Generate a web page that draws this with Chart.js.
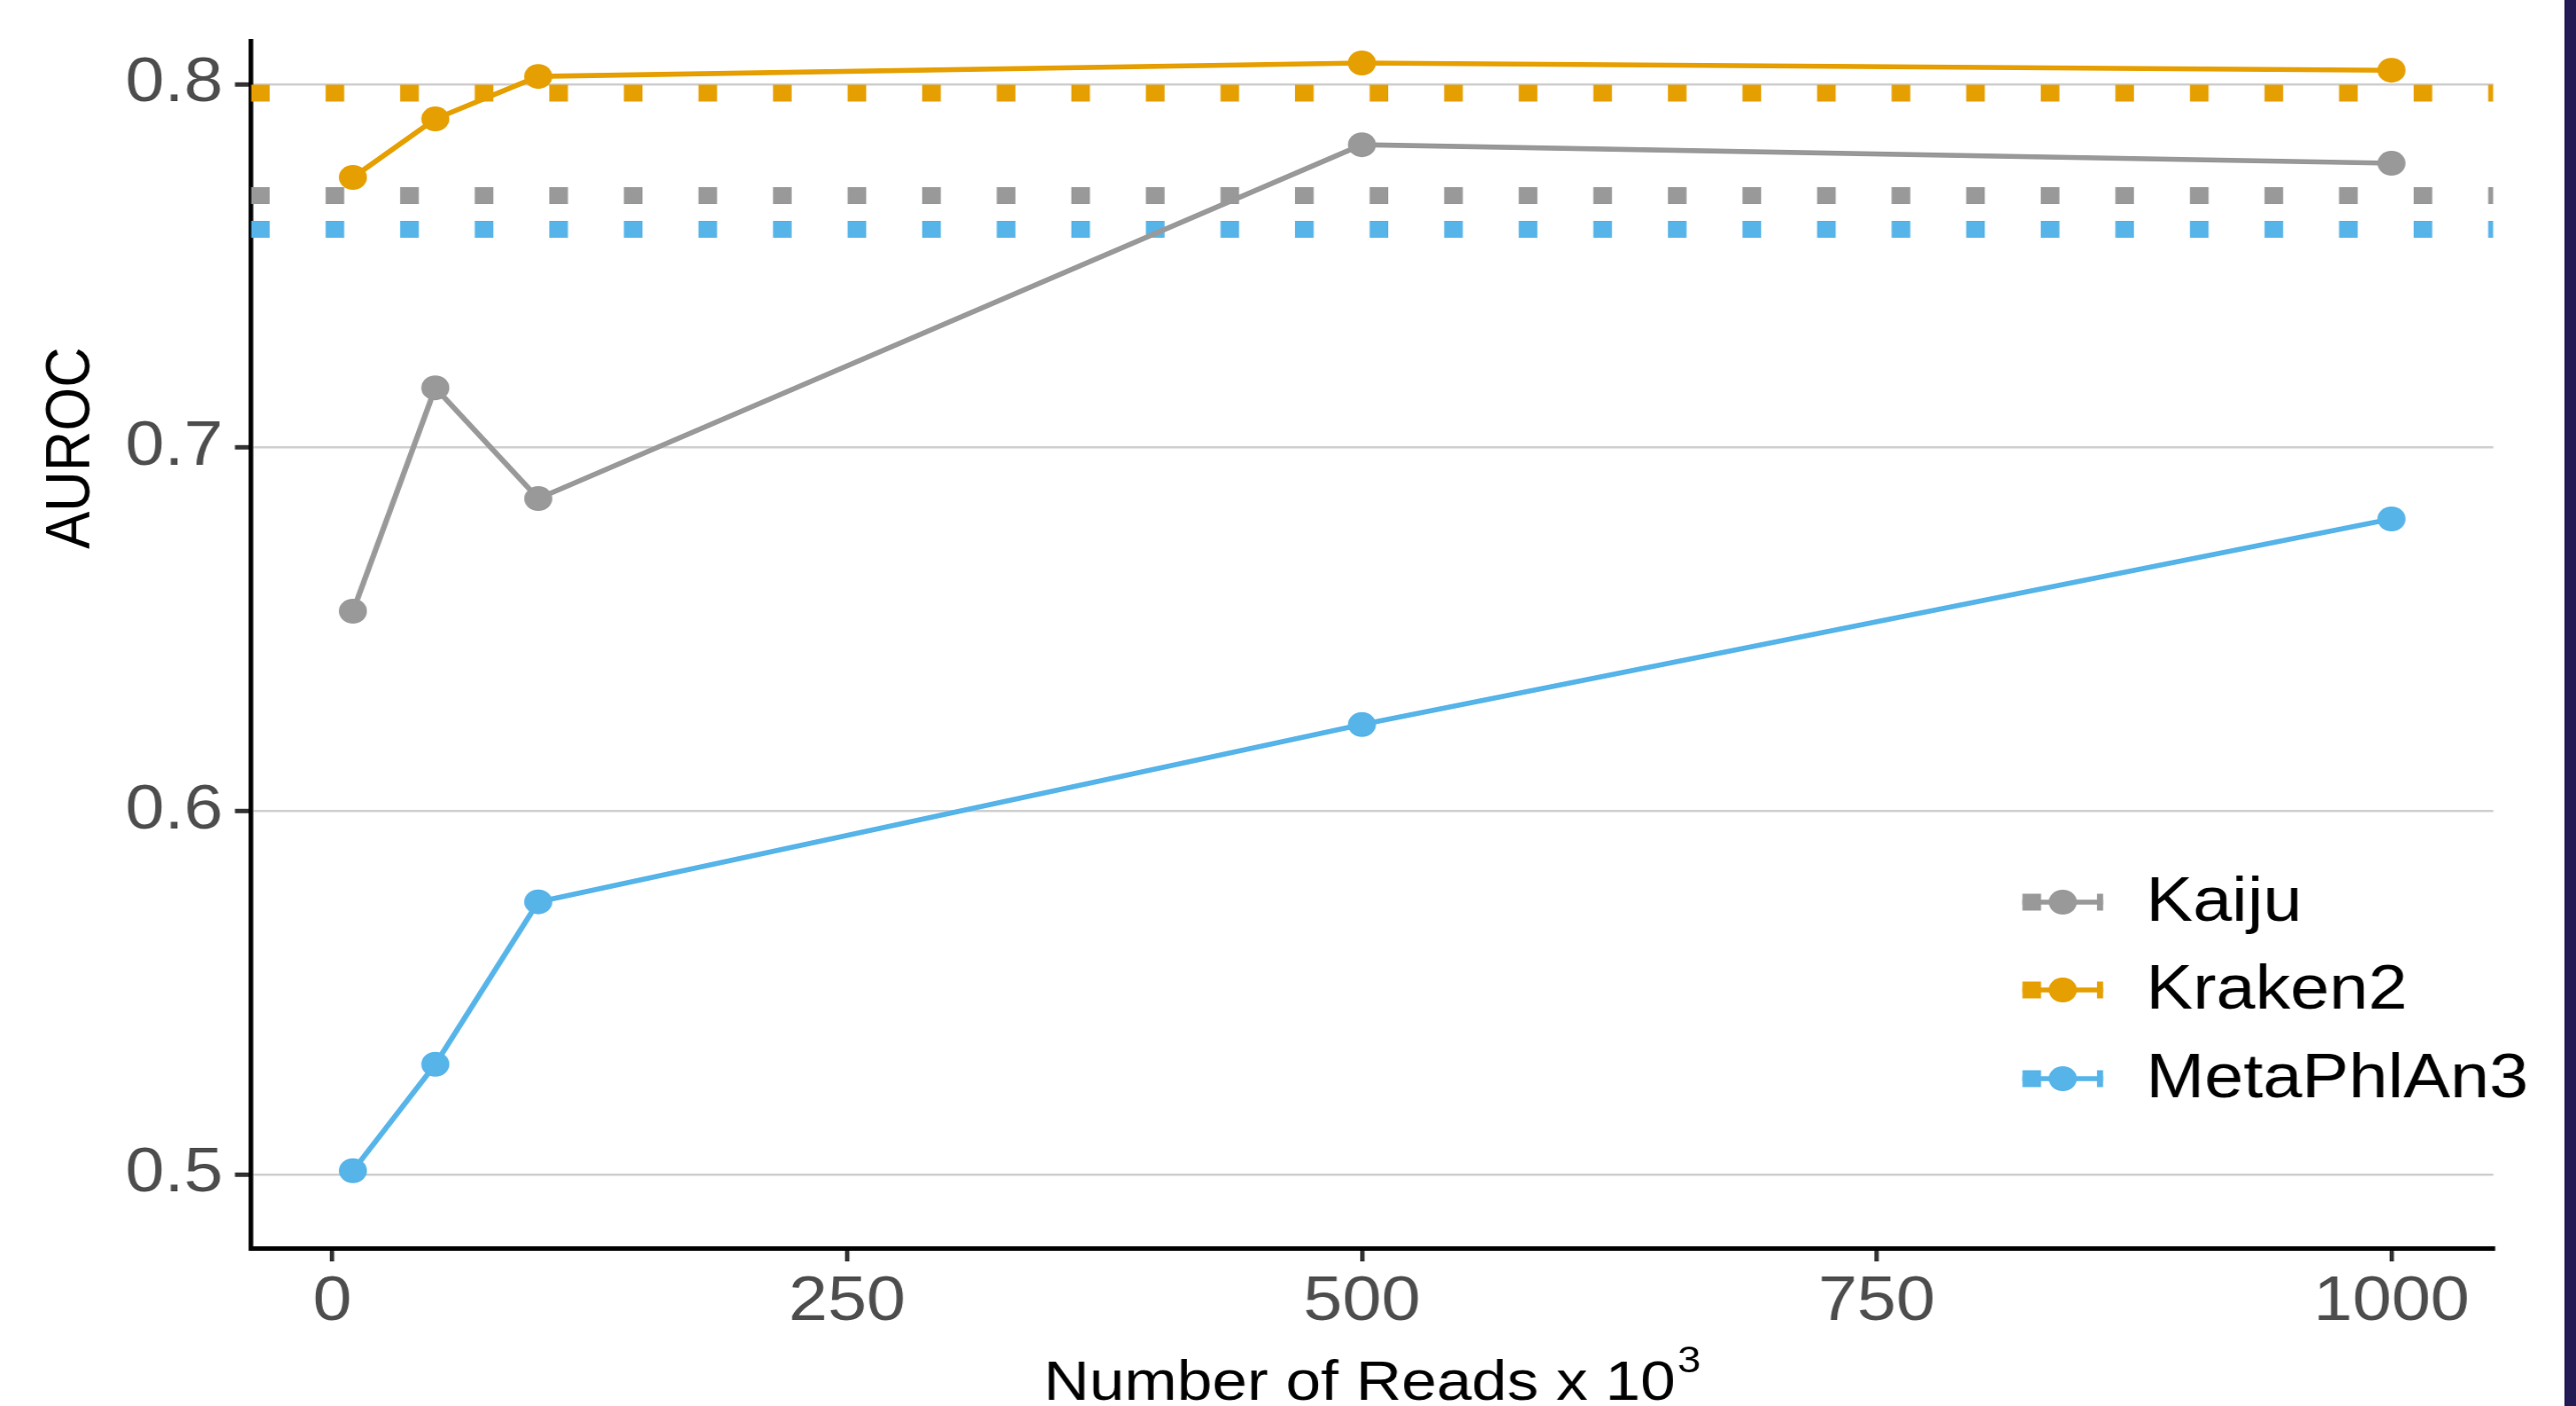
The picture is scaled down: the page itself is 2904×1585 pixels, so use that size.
<!DOCTYPE html>
<html>
<head>
<meta charset="utf-8">
<script src="https://cdn.jsdelivr.net/npm/chart.js@4.4.1/dist/chart.umd.min.js"></script>
<style>
  html, body { margin: 0; padding: 0; background: #ffffff; width: 2904px; height: 1585px; overflow: hidden; }
  #wrap { position: absolute; left: 0; top: 0; width: 2570px; height: 1585px; transform: scaleX(1.12996); transform-origin: 0 0; }
  #edge { position: absolute; left: 2891px; top: 0; width: 13px; height: 1585px; background: #221b54; }
</style>
</head>
<body>
<div id="wrap"><canvas id="c" width="2570" height="1585"></canvas></div>
<div id="edge"></div>
<script>
// ---- data ----
const reads = [10, 50, 100, 500, 1000];            // Number of reads x 10^3
const kaiju = [0.655, 0.7165, 0.686, 0.7834, 0.7783];
const kraken2 = [0.7744, 0.7905, 0.8022, 0.8059, 0.8039];
const metaphlan3 = [0.501, 0.5303, 0.575, 0.6238, 0.6804];
const seriesNames = ['Kaiju', 'Kraken2', 'MetaPhlAn3'];
const fullDepthAuroc = [0.7694, 0.7976, 0.7601];    // dotted reference lines
const xTicks = [0, 250, 500, 750, 1000];
const yTicks = [0.5, 0.6, 0.7, 0.8];
const xRange = [-39.5, 1049.5];
const yRange = [0.4797, 0.8120];
const xTitle = 'Number of Reads x 10';
const xTitleSup = '3';
const yTitle = 'AUROC';

// ---- styles ----
const colors = ['#999999', '#E69F00', '#56B4E9'];
const FONT = '"Liberation Sans", Arial, Helvetica, sans-serif';
const DASH = [18.6, 55.8];
const LINE_W = 5.6;
const PT_R = 14;

const seriesValues = [kaiju, kraken2, metaphlan3];

const datasets = [];
seriesNames.forEach((name, i) => {
  datasets.push({
    label: name,
    data: reads.map((r, j) => ({ x: r, y: seriesValues[i][j] })),
    borderColor: colors[i],
    backgroundColor: colors[i],
    borderWidth: LINE_W,
    pointRadius: PT_R,
    pointBorderWidth: 0,
    pointBackgroundColor: colors[i],
    tension: 0,
    order: 1
  });
});
seriesNames.forEach((name, i) => {
  datasets.push({
    label: name + ' (full depth)',
    data: [{ x: xRange[0], y: fullDepthAuroc[i] }, { x: xRange[1], y: fullDepthAuroc[i] }],
    borderColor: colors[i],
    borderWidth: 19,
    borderDash: DASH,
    borderCapStyle: 'butt',
    pointRadius: 0,
    tension: 0,
    order: 2
  });
});

const annot = {
  id: 'annot',
  afterDraw(chart) {
    const ctx = chart.ctx;
    const ca = chart.chartArea;
    ctx.save();
    // y title
    ctx.fillStyle = '#000000';
    ctx.font = '63px ' + FONT;
    ctx.save();
    ctx.translate(71.5, 505);
    ctx.rotate(-Math.PI / 2);
    ctx.textAlign = 'center';
    ctx.textBaseline = 'middle';
    ctx.fillText(yTitle, 0, 0);
    ctx.restore();
    // x title with superscript
    ctx.textAlign = 'left';
    ctx.textBaseline = 'alphabetic';
    ctx.font = '63px ' + FONT;
    const w1 = ctx.measureText(xTitle).width;
    ctx.font = '42px ' + FONT;
    const w2 = ctx.measureText(xTitleSup).width;
    const cx = (ca.left + ca.right) / 2;
    const x0 = cx - (w1 + w2 + 2) / 2;
    ctx.font = '63px ' + FONT;
    ctx.fillText(xTitle, x0, 1578);
    ctx.font = '42px ' + FONT;
    ctx.fillText(xTitleSup, x0 + w1 + 2, 1547);
    // legend
    const keyL = 2017.7, keyR = 2098.2, keyC = (keyL + keyR) / 2;
    const rows = [1017, 1116, 1216];
    seriesNames.forEach((name, i) => {
      const y = rows[i];
      const col = chart.data.datasets[i].borderColor;
      ctx.save();
      ctx.strokeStyle = col;
      ctx.lineCap = 'butt';
      ctx.lineWidth = 19;
      ctx.setLineDash(DASH);
      ctx.beginPath(); ctx.moveTo(keyL, y); ctx.lineTo(keyR, y); ctx.stroke();
      ctx.setLineDash([]);
      ctx.lineWidth = LINE_W;
      ctx.beginPath(); ctx.moveTo(keyL, y); ctx.lineTo(keyR, y); ctx.stroke();
      ctx.fillStyle = col;
      ctx.beginPath(); ctx.arc(keyC, y, PT_R, 0, Math.PI * 2); ctx.fill();
      ctx.restore();
      ctx.fillStyle = '#000000';
      ctx.font = '70px ' + FONT;
      ctx.textAlign = 'left';
      ctx.textBaseline = 'middle';
      ctx.fillText(name, 2141, y + 2);
    });
    ctx.restore();
  }
};

new Chart(document.getElementById('c'), {
  type: 'line',
  data: { datasets },
  plugins: [annot],
  options: {
    responsive: false,
    animation: false,
    devicePixelRatio: 1,
    events: [],
    layout: { padding: { left: 0, top: 46, right: 82.4, bottom: 0 } },
    plugins: { legend: { display: false }, tooltip: { enabled: false }, title: { display: false } },
    scales: {
      x: {
        type: 'linear',
        min: xRange[0],
        max: xRange[1],
        afterBuildTicks: (s) => { s.ticks = xTicks.map(v => ({ value: v })); },
        afterFit: (s) => { s.height = 178; s.paddingLeft = 0; s.paddingRight = 0; },
        grid: { drawOnChartArea: false, drawTicks: true, tickLength: 15, tickColor: '#333333', tickWidth: 4.4, color: '#333333', lineWidth: 4.4 },
        border: { display: true, color: '#000000', width: 5 },
        ticks: { color: '#4D4D4D', font: { family: FONT, size: 70 }, padding: 5, maxRotation: 0, autoSkip: false, callback: (v) => String(v) }
      },
      y: {
        type: 'linear',
        min: yRange[0],
        max: yRange[1],
        afterBuildTicks: (s) => { s.ticks = yTicks.map(v => ({ value: v })); },
        afterFit: (s) => { s.width = 250.4; s.paddingTop = 0; s.paddingBottom = 0; },
        grid: { drawOnChartArea: true, drawTicks: true, tickLength: 16, color: '#cfcfcf', lineWidth: 2.5, tickColor: '#333333', tickWidth: 5 },
        border: { display: true, color: '#000000', width: 4.6 },
        ticks: { color: '#4D4D4D', font: { family: FONT, size: 70 }, padding: 12, autoSkip: false, callback: (v) => v.toFixed(1) }
      }
    }
  }
});
</script>
</body>
</html>
